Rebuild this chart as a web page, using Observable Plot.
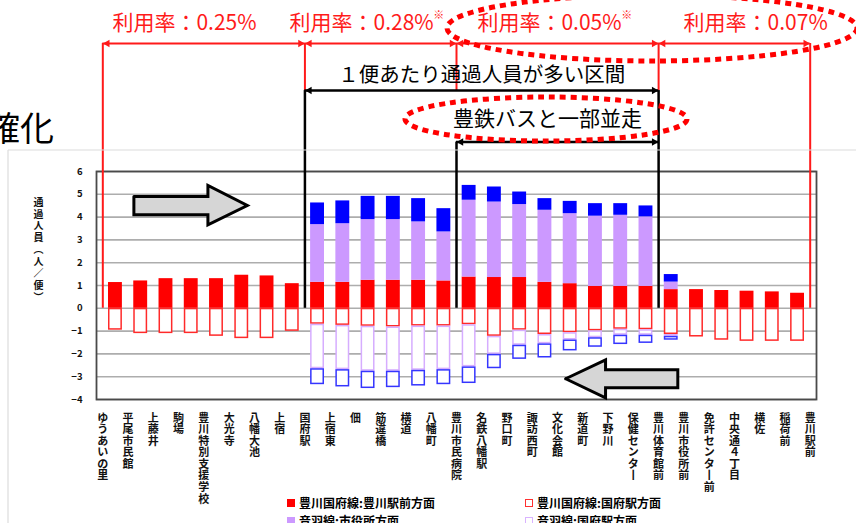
<!DOCTYPE html>
<html><head><meta charset="utf-8">
<script src="https://cdn.jsdelivr.net/npm/d3@7"></script>
<script src="https://cdn.jsdelivr.net/npm/@observablehq/plot@0.6"></script>
<style>
html,body{margin:0;padding:0;background:#fff;overflow:hidden;width:856px;height:523px}
#wrap{position:relative;width:856px;height:523px;font-family:'Noto Sans CJK JP',sans-serif}
#wrap svg.ov{position:absolute;left:0;top:0;pointer-events:none}
.leg{position:absolute;font-size:12px;font-weight:bold;color:#000;white-space:nowrap;line-height:14px}
.sw{display:inline-block;width:8px;height:8px;margin-right:4px;vertical-align:1px;box-sizing:border-box}
</style></head><body><div id="wrap"></div>
<script>
// Stops (boundaries between segments)
const stops = ["ゆうあいの里","平尾市民館","上藤井","駒場","豊川特別支援学校","大光寺","八幡大池","上宿","国府駅","上宿東","佃","筋違橋","横道","八幡町","豊川市民病院","名鉄八幡駅","野口町","諏訪西町","文化会館","新道町","下野川","保健センター","豊川体育館前","豊川市役所前","免許センター前","中央通４丁目","横佐","稲荷前","豊川駅前"];
// Outbound (positive, stacked upward): 豊川国府線：豊川駅前方面 / 音羽線：市役所方面 / third (blue)
const redOut    = [1.13,1.20,1.30,1.30,1.30,1.45,1.42,1.08, 1.14,1.14,1.23,1.23,1.23,1.20, 1.37,1.35,1.35,1.14,1.08,0.96,0.96,0.96, 0.82, 0.82,0.78,0.75,0.72,0.66];
const purpleOut = [0,0,0,0,0,0,0,0, 2.53,2.57,2.66,2.66,2.56,2.15, 3.37,3.31,3.20,3.16,3.07,3.08,3.12,3.05, 0.33, 0,0,0,0,0];
const blueOut   = [0,0,0,0,0,0,0,0, 0.95,1.00,1.02,1.02,1.02,1.02, 0.65,0.66,0.55,0.51,0.54,0.55,0.51,0.48, 0.33, 0,0,0,0,0];
// Inbound (drawn downward): 豊川国府線：国府駅方面 / 音羽線：国府駅方面 / third (blue)
const redIn     = [0.96,1.11,1.11,1.11,1.23,1.33,1.33,1.01, 0.70,0.75,0.79,0.82,0.78,0.78, 0.72,1.23,0.96,1.15,1.07,0.99,0.92,0.94, 1.15, 1.26,1.40,1.45,1.45,1.45];
const purpleIn  = [0,0,0,0,0,0,0,0, 1.95,1.94,1.97,1.94,1.94,1.91, 1.85,0.79,0.66,0.41,0.32,0.30,0.26,0.24, 0.08, 0,0,0,0,0];
const blueIn    = [0,0,0,0,0,0,0,0, 0.70,0.76,0.76,0.72,0.69,0.66, 0.73,0.63,0.62,0.62,0.48,0.42,0.41,0.36, 0.17, 0,0,0,0,0];
const yTicks = [-4,-3,-2,-1,0,1,2,3,4,5,6];
const yTitle = "通過人員︵人／便︶";
// Annotations (x in stop index units, y in chart units)
const rateSpans = [[0,8],[8,14],[14,22],[22,28]];
const rateTexts = ["利用率：0.25%","利用率：0.28%","利用率：0.05%","利用率：0.07%"];
const rateTextX = [0.38, 7.39, 14.83, 22.99];
const rateNotes = [{x:13.3, t:"※"},{x:20.74, t:"※"}];
const busySpan = [8,22];
const busyText = "１便あたり通過人員が多い区間";
const parallelSpan = [14,22];
const parallelText = "豊鉄バスと一部並走";
const parallelTextX = 17.6;
const rowY = {rate: 11.61, rateText: 12.49, busy: 9.55, busyText: 10.21, par: 7.29, parText: 8.28, note: 12.85};
const rightArrow = [[1.23,4.90],[4.16,4.90],[4.16,5.39],[5.72,4.51],[4.16,3.66],[4.16,4.10],[1.23,4.10],[1.23,4.90]];
const leftArrow  = [[18.32,-3.09],[19.90,-2.26],[19.90,-2.70],[22.76,-2.70],[22.76,-3.49],[19.90,-3.49],[19.90,-3.93],[18.32,-3.09]];
const legendItems = [
  {label:"豊川国府線:豊川駅前方面", fill:"#ff0000", stroke:"#ff0000", col:0, row:0},
  {label:"音羽線:市役所方面", fill:"#cc99ff", stroke:"#cc99ff", col:0, row:1},
  {label:"豊川国府線:国府駅方面", fill:"#fff", stroke:"#ff3030", col:1, row:0},
  {label:"音羽線:国府駅方面", fill:"#fff", stroke:"#d9b3ff", col:1, row:1}
];

const FONT = "'Noto Sans CJK JP', sans-serif";
const BW = 0.225; // bar inset in band units

const fills = [];
const outlines = [];
for (let i = 0; i < redOut.length; i++) {
  let c = 0;
  [[redOut,"#ff0000"],[purpleOut,"#cc99ff"],[blueOut,"#0000ff"]].forEach(([arr,col]) => {
    if (arr[i] > 0) { fills.push({x1:i+BW, x2:i+1-BW, y1:c, y2:c+arr[i], color:col}); c += arr[i]; }
  });
  c = 0;
  [[redIn,"#ff2a2a"],[purpleIn,"#d6adff"],[blueIn,"#3535ff"]].forEach(([arr,col]) => {
    if (arr[i] > 0) { outlines.push({x1:i+BW, x2:i+1-BW, y1:-c, y2:-(c+arr[i]), color:col}); c += arr[i]; }
  });
}

const redV = [
  {x:0, y1:rowY.rate, y2:0}, {x:28, y1:rowY.rate, y2:0},
  {x:8, y1:rowY.rate, y2:rowY.busy}, {x:14, y1:rowY.rate, y2:rowY.busy}, {x:22, y1:rowY.rate, y2:rowY.busy}
];
const blackV = [
  {x:8, y1:rowY.busy, y2:0}, {x:22, y1:rowY.busy, y2:0}, {x:14, y1:rowY.par, y2:0}
];
const rateRows = rateSpans.map(([a,b]) => ({a, b, y: rowY.rate}));
const blackRows = [{a:busySpan[0], b:busySpan[1], y:rowY.busy},{a:parallelSpan[0], b:parallelSpan[1], y:rowY.par}];
const heads = (rows, color) => [
  Plot.dot(rows, {x:"a", y:"y", symbol:"triangle2", r:3.6, rotate:-90, fill:color, stroke:"none", dx:4.5}),
  Plot.dot(rows, {x:"b", y:"y", symbol:"triangle2", r:3.6, rotate:90, fill:color, stroke:"none", dx:-4.5})
];

const chart = Plot.plot({
  width: 856, height: 523,
  marginLeft: 96, marginRight: 40, marginTop: 171, marginBottom: 124,
  x: {domain: [-0.25, 28.25], axis: null},
  y: {domain: [-4, 6], axis: null},
  style: {fontFamily: FONT, background: "transparent", overflow: "visible"},
  marks: [
    Plot.ruleY(yTicks, {stroke: "#adadad", strokeWidth: 1.6}),
    Plot.frame({stroke: "#4a4a4a", strokeWidth: 1.8}),
    Plot.axisY({ticks: yTicks, tickSize: 0, tickPadding: 14, fontSize: 9.5, fontWeight: "bold", label: null, fill: "#111"}),
    Plot.text([yTitle], {text: d => d.split("").join("\n"), frameAnchor: "left", y: 2.58, dx: -63, fontSize: 10, fontWeight: "bold", lineHeight: 1.19, fill: "#111"}),
    Plot.rect(fills, {x1:"x1", x2:"x2", y1:"y1", y2:"y2", fill: d => d.color}),
    Plot.rect(outlines, {x1:"x1", x2:"x2", y1:"y1", y2:"y2", fill: "white", stroke: d => d.color, strokeWidth: 1.5, inset: 0.75}),
    Plot.line(rightArrow, {x: d => d[0], y: d => d[1], fill: "#d6d6d6", stroke: "#000", strokeWidth: 3, strokeLinejoin: "miter", strokeMiterlimit: 10}),
    Plot.line(leftArrow, {x: d => d[0], y: d => d[1], fill: "#d6d6d6", stroke: "#000", strokeWidth: 3, strokeLinejoin: "miter", strokeMiterlimit: 10}),
    Plot.ruleX(redV, {x:"x", y1:"y1", y2:"y2", stroke:"#ff1a1a", strokeWidth: 2}),
    Plot.ruleX(blackV, {x:"x", y1:"y1", y2:"y2", stroke:"#000", strokeWidth: 2.5}),
    Plot.ruleY(rateRows, {y:"y", x1:"a", x2:"b", stroke:"#ff1a1a", strokeWidth: 2}),
    Plot.ruleY(blackRows, {y:"y", x1:"a", x2:"b", stroke:"#000", strokeWidth: 2.5}),
    ...heads(rateRows, "#ff1a1a"),
    ...heads(blackRows, "#000"),
    Plot.text(rateTexts, {x: (d,i) => rateTextX[i], y: rowY.rateText, text: d => d, textAnchor: "start", fontSize: 21, fill: "#ff1a1a"}),
    Plot.text(rateNotes, {x: "x", y: rowY.note, text: "t", fontSize: 11, fill: "#ff1a1a"}),
    Plot.text([busyText], {x: (busySpan[0]+busySpan[1])/2, y: rowY.busyText, text: d => d, fontSize: 20.5, fill: "#000"}),
    Plot.text([parallelText], {x: parallelTextX, y: rowY.parText, text: d => d, fontSize: 21, fill: "#000"}),
    Plot.text(stops, {x: (d,i) => i, text: d => d.replace(/ー/g,"丨").split("").join("\n"), frameAnchor: "bottom", lineAnchor: "top", dy: 14, fontSize: 11, fontWeight: "bold", lineHeight: 1.05, fill: "#111"})
  ]
});
const wrap = document.getElementById("wrap");
wrap.appendChild(chart);
chart.style.position = "absolute"; chart.style.left = "0"; chart.style.top = "0";

// Decorative overlay: cropped title fragment, outer border, dotted ellipses
const ns = "http://www.w3.org/2000/svg";
const ov = document.createElementNS(ns, "svg");
ov.setAttribute("class", "ov"); ov.setAttribute("width", 856); ov.setAttribute("height", 523);
ov.innerHTML = `
  <line x1="8" y1="150" x2="856" y2="150" stroke="#dcdcdc" stroke-width="1.2"/>
  <line x1="8" y1="150" x2="8" y2="523" stroke="#dcdcdc" stroke-width="1.2"/>
  <text x="54" y="141" text-anchor="end" font-size="34" font-family="${FONT}" fill="#000">明確化</text>
  <ellipse cx="652" cy="28" rx="205" ry="33" fill="none" stroke="#ff0000" stroke-width="5" stroke-dasharray="6 5"/>
  <ellipse cx="546" cy="119" rx="141" ry="22" fill="none" stroke="#ff0000" stroke-width="5" stroke-dasharray="6 5"/>
`;
wrap.appendChild(ov);

// Legend (HTML, below the plot area)
legendItems.forEach(it => {
  const d = document.createElement("div");
  d.className = "leg";
  d.style.left = (it.col ? 525 : 287) + "px";
  d.style.top = (496 + it.row * 17.5) + "px";
  d.innerHTML = `<span class="sw" style="background:${it.fill};border:${it.fill === '#fff' ? 1.5 : 0}px solid ${it.stroke}"></span>${it.label}`;
  wrap.appendChild(d);
});
</script></body></html>
